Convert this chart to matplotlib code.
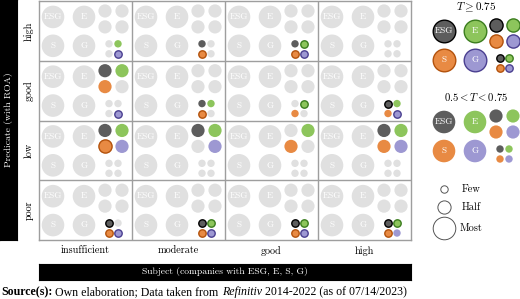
import matplotlib
matplotlib.use("Agg")
import matplotlib.pyplot as plt

# data: 0 = not satisfied (gray), 1 = 0.5 < T < 0.75, 2 = T >= 0.75
predicates = ["high", "good", "low", "poor"]
subjects_cat = ["insufficient", "moderate", "good", "high"]
groups = ["ESG", "E", "S", "G"]

# [row predicate][column subject] -> [ESG, E, S, G]
most = [[[0, 0, 0, 0]] * 4 for _ in range(4)]
half = [
    [[0, 0, 0, 0], [0, 0, 0, 0], [0, 0, 0, 0], [0, 0, 0, 0]],
    [[1, 1, 1, 0], [0, 0, 0, 0], [0, 0, 0, 0], [0, 0, 0, 0]],
    [[1, 1, 2, 1], [1, 1, 0, 1], [0, 1, 1, 0], [1, 1, 1, 1]],
    [[0, 0, 0, 0], [0, 0, 0, 0], [0, 0, 0, 0], [0, 0, 0, 0]],
]
few = [
    [[0, 1, 0, 2], [1, 0, 2, 0], [1, 2, 2, 2], [0, 0, 0, 0]],
    [[0, 0, 0, 2], [1, 1, 2, 0], [0, 2, 1, 0], [2, 1, 1, 2]],
    [[0, 0, 0, 0], [0, 0, 0, 0], [0, 0, 0, 0], [0, 0, 0, 0]],
    [[2, 0, 2, 2], [2, 2, 2, 2], [2, 2, 2, 2], [2, 2, 2, 1]],
]

fill = {"ESG": "#5d5d5d", "E": "#8dc55c", "S": "#e88a43", "G": "#9d98d2"}
edge = {"ESG": "#000000", "E": "#3b7d1e", "S": "#b3520c", "G": "#4a3f90"}
GRAY = "#e0e0e0"

W, H = 520, 299
CW, CH = 93, 60  # cell size in px

# positions inside a cell (px from top-left) and radius per quantifier
layout = {
    "most": ([(14, 16), (45, 16), (14, 45), (45, 45)], 11.3),
    "half": ([(66, 10), (83, 10), (66, 26), (83, 26)], 6.6),
    "few": ([(70, 43), (79, 43), (70, 53), (79, 53)], 3.7),
}

plt.rcParams["mathtext.fontset"] = "cm"
CM = "cmr10"


def rect(x0, y0, x1, y1):
    return [x0 / W, 1 - y1 / H, (x1 - x0) / W, (y1 - y0) / H]


def size(r):
    return (2 * r * 72 / 100) ** 2


def draw_block(ax, levels, to_xy):
    for q, lv in levels.items():
        pts, r = layout[q]
        for k, g in enumerate(groups):
            x, y = to_xy(*pts[k])
            v = lv[k]
            fc = GRAY if v == 0 else fill[g]
            ec = edge[g] if v == 2 else "none"
            ax.scatter([x], [y], s=size(r), c=fc, edgecolors=ec,
                       linewidths=1.0, zorder=3, clip_on=False)
            if q == "most":
                ax.text(x, y, g, color="white", ha="center", va="center",
                        fontsize=6.6, family=CM, zorder=4)


fig = plt.figure(figsize=(W / 100, H / 100), dpi=100)

# main grid
ax = fig.add_axes(rect(39, 1, 411, 240))
ax.set_xlim(0, 4)
ax.set_ylim(4, 0)
for i in range(4):
    for j in range(4):
        lv = {"most": most[i][j], "half": half[i][j], "few": few[i][j]}
        draw_block(ax, lv, lambda px, py, j=j, i=i: (j + px / CW, i + py / CH))
for k in (1, 2, 3):
    ax.axvline(k, color="#9e9e9e", lw=1.0)
    ax.axhline(k, color="#9e9e9e", lw=1.0)
for sp in ax.spines.values():
    sp.set_color("#9e9e9e")
    sp.set_linewidth(1.0)
ax.set_xticks([0.5, 1.5, 2.5, 3.5])
ax.set_xticklabels(subjects_cat, family=CM, fontsize=7.3)
ax.set_yticks([0.5, 1.5, 2.5, 3.5])
ax.set_yticklabels(predicates, family=CM, fontsize=7.3, rotation=90, va="center")
ax.tick_params(length=0, pad=4)

# left bar
bl = fig.add_axes(rect(0, 0, 17, 240))
bl.set_facecolor("black")
bl.set_xticks([])
bl.set_yticks([])
bl.text(0.5, 0.5, "Predicate (with ROA)", color="white", rotation=90,
        ha="center", va="center", family=CM, fontsize=7.0, transform=bl.transAxes)

# bottom bar
bb = fig.add_axes(rect(39, 264, 411, 280))
bb.set_facecolor("black")
bb.set_xticks([])
bb.set_yticks([])
bb.text(0.5, 0.5, "Subject (companies with ESG, E, S, G)", color="white",
        ha="center", va="center", family=CM, fontsize=6.9, transform=bb.transAxes)

# legend
lax = fig.add_axes(rect(412, 0, 520, 240))
lax.set_xlim(412, 520)
lax.set_ylim(240, 0)
lax.axis("off")
lax.text(476, 7, r"$T \geq 0.75$", ha="center", va="center", fontsize=8)
draw_block(lax, {"most": [2] * 4, "half": [2] * 4, "few": [2] * 4},
           lambda px, py: (430 + px, 15 + py))
lax.text(476, 97, r"$0.5 < T < 0.75$", ha="center", va="center", fontsize=7.7)
draw_block(lax, {"most": [1] * 4, "half": [1] * 4, "few": [1] * 4},
           lambda px, py: (430 + px, 106 + py))

size_labels = ["Few", "Half", "Most"]
size_y = [189, 207, 228]
size_r = [layout["few"][1], layout["half"][1], layout["most"][1]]
for lab, y, r in zip(size_labels, size_y, size_r):
    lax.scatter([444], [y], s=size(r), facecolors="white", edgecolors="#555555",
                linewidths=0.7, clip_on=False)
    lax.text(460 if lab == "Most" else 462, y, lab, ha="left", va="center",
             family=CM, fontsize=7.5)

# source line
renderer = fig.canvas.get_renderer()
x = 1
parts = [("Source(s):", "bold", "normal"),
         (" Own elaboration; Data taken from ", "normal", "normal"),
         ("Refinitiv", "normal", "italic"),
         (" 2014-2022 (as of 07/14/2023)", "normal", "normal")]
for s, w, st in parts:
    t = fig.text(x / W, 1 - 295 / H, s, fontsize=8.6, family="Liberation Serif",
                 weight=w, style=st, va="baseline", ha="left")
    x += t.get_window_extent(renderer).width

fig.savefig("out.png", dpi=100)
